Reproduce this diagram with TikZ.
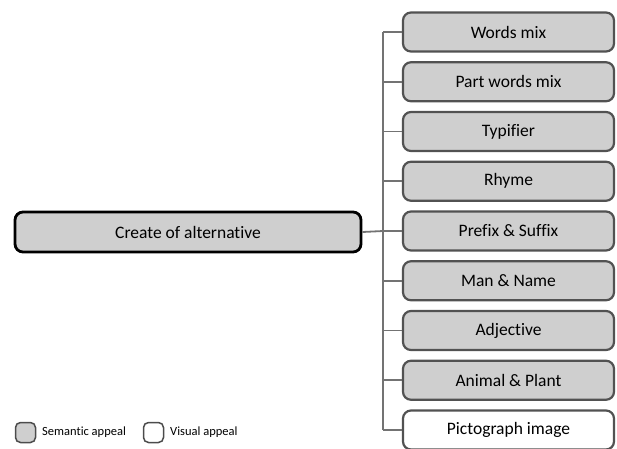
\documentclass[tikz,border=0pt]{standalone}
\usepackage{fontspec}
\setmainfont[Ligatures=NoCommon]{Carlito}
\begin{document}
\begin{tikzpicture}[x=1pt,y=-1pt,
  leaf/.style={draw=black!68,line width=2.2pt,rounded corners=8pt,minimum width=211pt,minimum height=39pt,inner sep=0pt,font=\fontsize{17.5}{20}\selectfont},
  sem/.style={leaf,fill=black!19},
  vis/.style={leaf,fill=white},
  root/.style={draw=black,line width=2.8pt,rounded corners=8pt,fill=black!19,minimum width=346pt,minimum height=40pt,inner sep=0pt,font=\fontsize{17.5}{20}\selectfont},
  conn/.style={draw=black!55,line width=1.8pt},
  legbox/.style={draw=black!70,line width=1.5pt,rounded corners=5pt,minimum width=20pt,minimum height=20pt,inner sep=0pt},
  legtext/.style={anchor=west,inner sep=0pt,font=\fontsize{12.5}{15}\selectfont}]
\useasboundingbox (0,0) rectangle (617,448);
\node[root] (r) at (188,232) {Create of alternative};
\foreach \t/\s [count=\i from 0] in {Words mix/sem,Part words mix/sem,Typifier/sem,Rhyme/sem,Prefix \& Suffix/sem,Man \& Name/sem,Adjective/sem,Animal \& Plant/sem,Pictograph image/vis}{
  \node[\s] (b\i) at (508.5,{32+\i*49.75}) {\t};
  \coordinate (t\i) at (383,{32+\i*49.75});
}
\draw[conn] (t0) -- (t8);
\foreach \i in {0,...,8}{\draw[conn] (t\i) -- (b\i.west);}
\draw[conn] (r.east) -- (t4);
\node[legbox,fill=black!19] (l1) at (25.5,432.5) {};
\node[legtext] (l1t) at (42,432.5) {Semantic appeal};
\node[legbox,fill=white] (l2) at (153.5,432.5) {};
\node[legtext] (l2t) at (170,432.5) {Visual appeal};
\end{tikzpicture}
\end{document}
